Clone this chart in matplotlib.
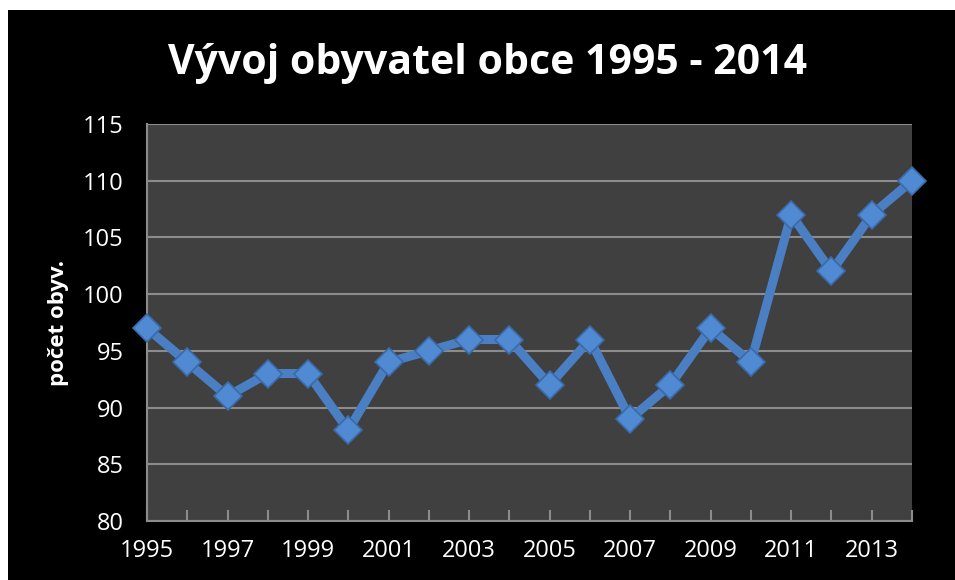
import matplotlib.pyplot as plt
import matplotlib.ticker as mticker

# --- DATA ---
years = list(range(1995, 2015))
population = [97, 94, 91, 93, 93, 88, 94, 95, 96, 96,
              92, 96, 89, 92, 97, 94, 107, 102, 107, 110]
year_labels = [str(y) if (y - 1995) % 2 == 0 else '' for y in years]

TITLE = 'Vývoj obyvatel obce 1995 - 2014'
YLABEL = 'počet obyv.'

plt.rcParams['font.family'] = ['Open Sans', 'DejaVu Sans']

fig = plt.figure(figsize=(9.55, 5.8), dpi=100, facecolor='white')
# black chart area inside a thin white margin
bg = fig.add_axes([8 / 955, 0, 1 - 8 / 955, 1 - 10 / 580])
bg.set_facecolor('black')
bg.set_xticks([])
bg.set_yticks([])
for s in bg.spines.values():
    s.set_visible(False)

ax = fig.add_axes([147 / 955, 1 - 521 / 580, (912 - 147) / 955, (521 - 124) / 580])
ax.set_facecolor('#404040')

ax.plot(years, population, color='#4a7fc4', linewidth=6.5, zorder=3,
        marker='D', markersize=14, markerfacecolor='#4f8ad2',
        markeredgecolor='#3a6aa8', markeredgewidth=1.2, clip_on=False)

ax.set_xlim(1995, 2014)
ax.set_ylim(80, 115)
ax.yaxis.set_major_locator(mticker.MultipleLocator(5))
ax.set_xticks(years)
ax.set_xticklabels(year_labels)
ax.grid(axis='y', color='#8c8c8c', linewidth=1.5)
ax.set_axisbelow(True)

for side in ['top', 'right']:
    ax.spines[side].set_visible(False)
for side in ['left', 'bottom']:
    ax.spines[side].set_color('#8c8c8c')
    ax.spines[side].set_linewidth(1.5)

ax.tick_params(axis='x', direction='in', length=8, width=1.5, color='#8c8c8c',
               labelcolor='white', labelsize=17, pad=13)
ax.tick_params(axis='y', length=0, labelcolor='white', labelsize=17, pad=17)

ax.set_ylabel(YLABEL, color='white', fontsize=16, fontweight='bold', labelpad=10)
fig.text(487 / 955, 1 - 63 / 580, TITLE, color='white', fontsize=29.5,
         fontweight='bold', ha='center', va='center')

fig.savefig('out.png', dpi=100, facecolor='white')
